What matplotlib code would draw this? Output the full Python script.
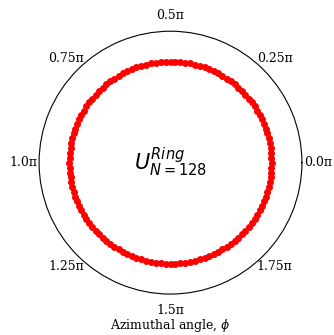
import numpy as np
import matplotlib
matplotlib.use("Agg")
import matplotlib.pyplot as plt

n_points = 128
ring_radius = 1.0
r_max = 1.3
tick_positions = [0.0, 0.25, 0.5, 0.75, 1.0, 1.25, 1.5, 1.75]
tick_labels = ["0.0π", "0.25π", "0.5π", "0.75π", "1.0π", "1.25π", "1.5π", "1.75π"]

phi = np.arange(n_points) * 2 * np.pi / n_points
r = np.full(n_points, ring_radius)

fig = plt.figure(figsize=(3.34, 3.35), dpi=100)
ax = fig.add_axes([0.117, 0.122, 0.787, 0.785], projection="polar")
ax.plot(phi, r, "o", color="red", markersize=4)
ax.set_ylim(0, r_max)
ax.set_yticks([])
ax.grid(False)
ax.set_xticks(np.array(tick_positions) * np.pi)
ax.set_xticklabels(tick_labels, family="DejaVu Serif", fontsize=9)
ax.tick_params(axis="x", pad=1)
ax.text(0, 0, r"$U^{Ring}_{N=128}$", ha="center", va="center", fontsize=15)
ax.set_xlabel(r"Azimuthal angle, $\phi$", family="DejaVu Serif", fontsize=9, labelpad=0)

fig.savefig("out.png", dpi=100)
